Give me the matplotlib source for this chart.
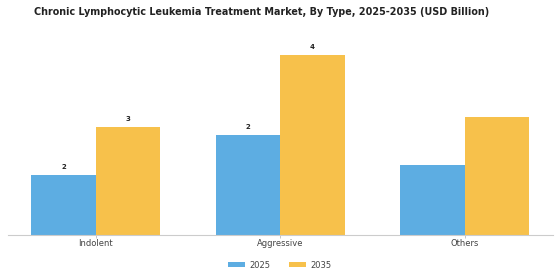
import matplotlib
matplotlib.use("Agg")
import matplotlib.pyplot as plt
import numpy as np

categories = ["Indolent", "Aggressive", "Others"]
years = ["2025", "2035"]
values_2025 = [1.5, 2.5, 1.75]
values_2035 = [2.7, 4.5, 2.95]
labelled = [True, True, False]   # the source only labels the first two groups

colors = {"2025": "#5DADE2", "2035": "#F7C14B"}

fig = plt.figure(figsize=(5.6, 2.8), dpi=100)
ax = fig.add_axes([0.014, 0.1607, 0.9735, 0.714])

x = np.arange(len(categories))
w = 0.35
b1 = ax.bar(x - w / 2, values_2025, w, color=colors["2025"], label="2025")
b2 = ax.bar(x + w / 2, values_2035, w, color=colors["2035"], label="2035")

for bars, vals in ((b1, values_2025), (b2, values_2035)):
    for rect, v, show in zip(bars, vals, labelled):
        if show:
            ax.text(rect.get_x() + rect.get_width() / 2, v + 0.12, f"{v:.0f}",
                    ha="center", va="bottom", fontsize=5, fontweight="bold",
                    color="#222222")

ax.set_xlim(-0.478, 2.48)
ax.set_ylim(0, 5)
ax.set_xticks(x)
ax.set_xticklabels(categories, fontsize=6, color="#444444")
ax.tick_params(axis="x", length=2, width=0.6, color="#bbbbbb", pad=0.8)
ax.set_yticks([])
for s in ("top", "right", "left"):
    ax.spines[s].set_visible(False)
ax.spines["bottom"].set_color("#cccccc")
ax.spines["bottom"].set_linewidth(0.8)

fig.text(0.468, 0.958, "Chronic Lymphocytic Leukemia Treatment Market, By Type, 2025-2035 (USD Billion)",
         ha="center", va="center", fontsize=6.97, fontweight="bold", color="#222222")

fig.legend(handles=[b1, b2], labels=years, loc="center", bbox_to_anchor=(0.5, 0.053),
           ncol=2, frameon=False, fontsize=6, handlelength=2.0, handleheight=0.6,
           columnspacing=2.2, handletextpad=0.6, labelcolor="#444444")

fig.savefig("out.png", dpi=100)
